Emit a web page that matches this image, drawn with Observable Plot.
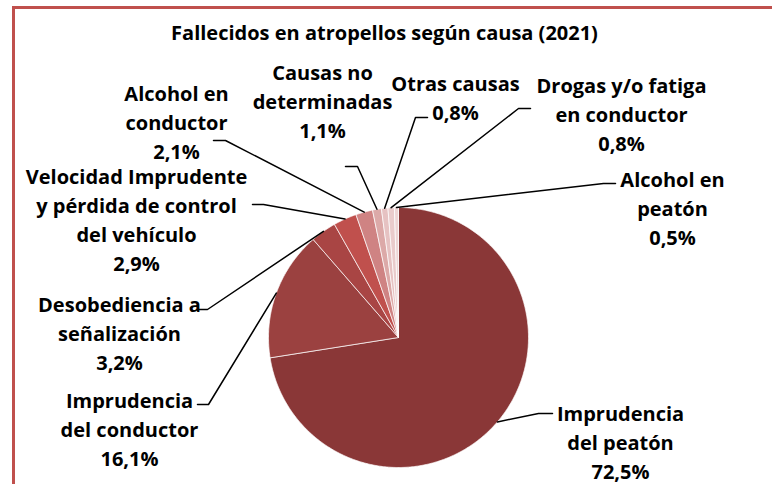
<!DOCTYPE html>
<html><head><meta charset="utf-8">
<script src="https://cdn.jsdelivr.net/npm/d3@7"></script>
<script src="https://cdn.jsdelivr.net/npm/@observablehq/plot@0.6"></script>
<style>
html,body{margin:0;padding:0;background:#fff;overflow:hidden}
#wrap{position:relative;width:772px;height:484px}
#frame{position:absolute;left:12px;top:6px;right:-10px;bottom:-10px;border-left:3px solid #c0504d;border-top:3px solid #c0504d;pointer-events:none}
svg{display:block}
</style></head><body><div id="wrap"><div id="frame"></div></div>
<script>
// ---- data ----
const titulo = "Fallecidos en atropellos según causa (2021)";
const causas = [
  "Imprudencia\ndel peatón",
  "Imprudencia\ndel conductor",
  "Desobediencia a\nseñalización",
  "Velocidad Imprudente\ny pérdida de control\ndel vehículo",
  "Alcohol en\nconductor",
  "Causas no\ndeterminadas",
  "Otras causas",
  "Drogas y/o fatiga\nen conductor",
  "Alcohol en\npeatón"
];
const porcentajes = [72.5, 16.1, 3.2, 2.9, 2.1, 1.1, 0.8, 0.8, 0.5];
const colores = ["#8a3737", "#9b4140", "#a94544", "#c0504d", "#cf8383", "#dca9a8", "#e6c2c2", "#e9cbcb", "#edd5d5"];

// ---- layout ----
const W = 772, H = 484;
const cx = 398, cy = 337, R = 130;
const FS = 20, LH = 29;
const posEtiqueta = [[620,440],[129,427],[119,331],[136,217.5],[176,120],[322,99],[455,96],[621,112],[672,206.5]];
const codo = [[538,413,552],[208,404,197],[207,309,197],[263,204,252],[225,140,213],[357,166,345],[415,117,427],[518,108,530],[603,183,615]];

const pie = d3.pie().sort(null).value(d => d)(porcentajes);
const pt = (a, r) => [cx + r * Math.sin(a), cy - r * Math.cos(a)];

const slices = [];
pie.forEach((p, i) => {
  const n = Math.max(4, Math.ceil((p.endAngle - p.startAngle) / 0.01));
  slices.push({i, x: cx, y: cy});
  for (let k = 0; k <= n; k++) {
    const a = p.startAngle + (p.endAngle - p.startAngle) * k / n;
    const [x, y] = pt(a, R);
    slices.push({i, x, y});
  }
  slices.push({i, x: cx, y: cy});
});

const leaders = [];
pie.forEach((p, i) => {
  const [x0, y0] = pt((p.startAngle + p.endAngle) / 2, R);
  const [ex, ey, hx] = codo[i];
  leaders.push({i, x: x0, y: y0}, {i, x: ex, y: ey}, {i, x: hx, y: ey});
});

const etiquetas = causas.map((c, i) => ({
  text: c + "\n" + porcentajes[i].toFixed(1).replace(".", ",") + "%",
  x: posEtiqueta[i][0], y: posEtiqueta[i][1]
}));

const chart = Plot.plot({
  width: W, height: H,
  margin: 0,
  x: {domain: [0, W], range: [0, W], axis: null},
  y: {domain: [0, H], range: [0, H], axis: null},
  style: {fontFamily: "'Open Sans', sans-serif", background: "white"},
  marks: [
    Plot.line(slices, {x: "x", y: "y", z: "i", fill: d => colores[d.i], stroke: "white", strokeWidth: 0.7, curve: "linear"}),
    Plot.line(leaders, {x: "x", y: "y", z: "i", stroke: "black", strokeWidth: 1.5}),
    Plot.text(etiquetas, {x: "x", y: "y", text: "text", fontSize: FS, fontWeight: "bold", lineHeight: LH / FS, lineAnchor: "middle", fill: "black"}),
    Plot.text([titulo], {x: () => 384, y: () => 33, text: d => d, fontSize: 20, fontWeight: "bold", fill: "black"})
  ]
});
document.getElementById("wrap").prepend(chart);
</script>
</body></html>
